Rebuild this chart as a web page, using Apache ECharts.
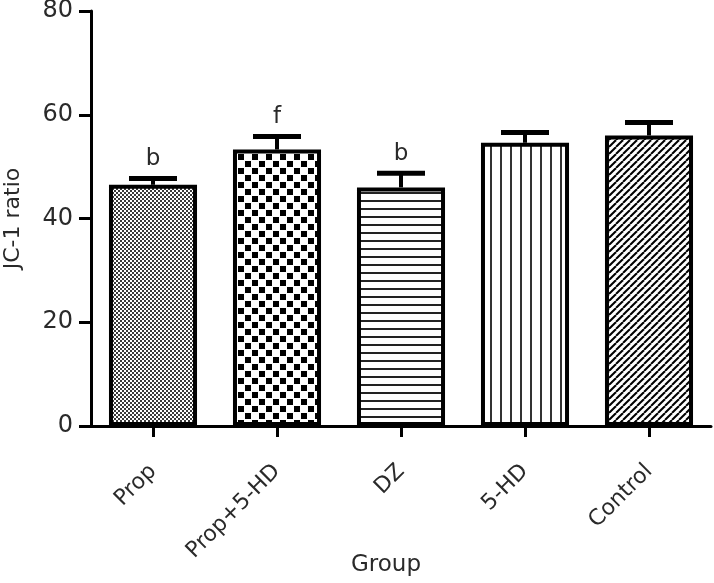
<!DOCTYPE html>
<html>
<head>
<meta charset="utf-8">
<script src="https://cdn.jsdelivr.net/npm/echarts@6/dist/echarts.min.js"></script>
<style>html,body{margin:0;padding:0;background:#fff;}#c{width:714px;height:583px;}</style>
</head>
<body>
<div id="c"></div>
<script>
var categories = ['Prop', 'Prop+5-HD', 'DZ', '5-HD', 'Control'];
var means = [46.5, 53.3, 46.0, 54.6, 56.0];
var sems = [1.2, 2.5, 2.7, 2.0, 2.5];
var sigLabels = ['b', 'f', 'b', '', ''];
var yTicks = [0, 20, 40, 60, 80];

function makeTile(w, h, draw) {
  var c = document.createElement('canvas');
  c.width = w; c.height = h;
  var ctx = c.getContext('2d');
  ctx.fillStyle = '#fff'; ctx.fillRect(0, 0, w, h);
  ctx.fillStyle = '#000'; ctx.strokeStyle = '#000';
  draw(ctx);
  return { image: c, repeat: 'repeat' };
}
var patterns = [
  makeTile(4, 4, function (ctx) { ctx.fillStyle = '#3a3a3a'; ctx.fillRect(0, 0, 2, 2); ctx.fillRect(2, 2, 2, 2); }),
  makeTile(14, 14, function (ctx) { ctx.fillRect(0, 0, 6, 6); ctx.fillRect(7, 7, 6, 6); }),
  makeTile(8, 8, function (ctx) { ctx.fillStyle = '#222'; ctx.fillRect(0, 0, 8, 2); }),
  makeTile(10, 8, function (ctx) { ctx.fillStyle = '#333'; ctx.fillRect(0, 0, 2, 8); }),
  makeTile(7, 7, function (ctx) {
    ctx.lineWidth = 2;
    for (var k = -1; k <= 1; k++) {
      ctx.beginPath(); ctx.moveTo(k * 7, 7); ctx.lineTo(k * 7 + 7, 0); ctx.stroke();
    }
  })
];

var barData = means.map(function (v, i) {
  return { value: v, itemStyle: { color: patterns[i] } };
});
var errData = means.map(function (v, i) { return [i, v, v + sems[i], sigLabels[i]]; });

var chart = echarts.init(document.getElementById('c'), null, { renderer: 'canvas' });
var FONT = 'DejaVu Sans';
var TXT = '#2a2a2a';
chart.setOption({
  animation: false,
  grid: { left: 91, right: 3, top: 11, bottom: 157, containLabel: false, outerBoundsMode: 'none' },
  xAxis: {
    type: 'category',
    data: categories,
    name: 'Group',
    nameLocation: 'middle',
    nameGap: 128,
    nameMoveOverlap: false,
    nameTextStyle: { fontFamily: FONT, fontSize: 23, color: TXT, padding: [0, 30, 0, 0] },
    axisLine: { lineStyle: { color: '#000', width: 3 } },
    axisTick: { show: true, alignWithLabel: true, length: 11, lineStyle: { color: '#000', width: 3 } },
    axisLabel: { rotate: 45, margin: 42, fontFamily: FONT, fontSize: 22, color: TXT }
  },
  yAxis: {
    type: 'value',
    min: yTicks[0], max: yTicks[yTicks.length - 1], interval: 20,
    name: 'JC-1 ratio',
    nameLocation: 'middle',
    nameGap: 67,
    nameMoveOverlap: false,
    nameTextStyle: { fontFamily: FONT, fontSize: 22, color: TXT },
    axisLine: { show: true, lineStyle: { color: '#000', width: 3 } },
    axisTick: { show: true, length: 12, lineStyle: { color: '#000', width: 3 } },
    axisLabel: { margin: 18, fontFamily: FONT, fontSize: 24, color: TXT },
    splitLine: { show: false }
  },
  series: [
    {
      type: 'bar',
      data: barData,
      barCategoryGap: '29%',
      itemStyle: { borderColor: '#000', borderWidth: 4 },
      z: 2
    },
    {
      type: 'custom',
      data: errData,
      z: 3,
      renderItem: function (params, api) {
        var top = api.coord([api.value(0), api.value(2)]);
        var base = api.coord([api.value(0), api.value(1)]);
        var half = 24;
        var lab = errData[params.dataIndex][3];
        return {
          type: 'group',
          children: [
            { type: 'line', shape: { x1: top[0], y1: top[1], x2: base[0], y2: base[1] }, style: { stroke: '#000', lineWidth: 4 } },
            { type: 'line', shape: { x1: top[0] - half, y1: top[1], x2: top[0] + half, y2: top[1] }, style: { stroke: '#000', lineWidth: 5 } },
            { type: 'text', style: { text: lab, x: top[0], y: top[1] - 8, textAlign: 'center', textVerticalAlign: 'bottom', font: '23px "DejaVu Sans"', fill: TXT } }
          ]
        };
      }
    }
  ]
});
</script>
</body>
</html>
